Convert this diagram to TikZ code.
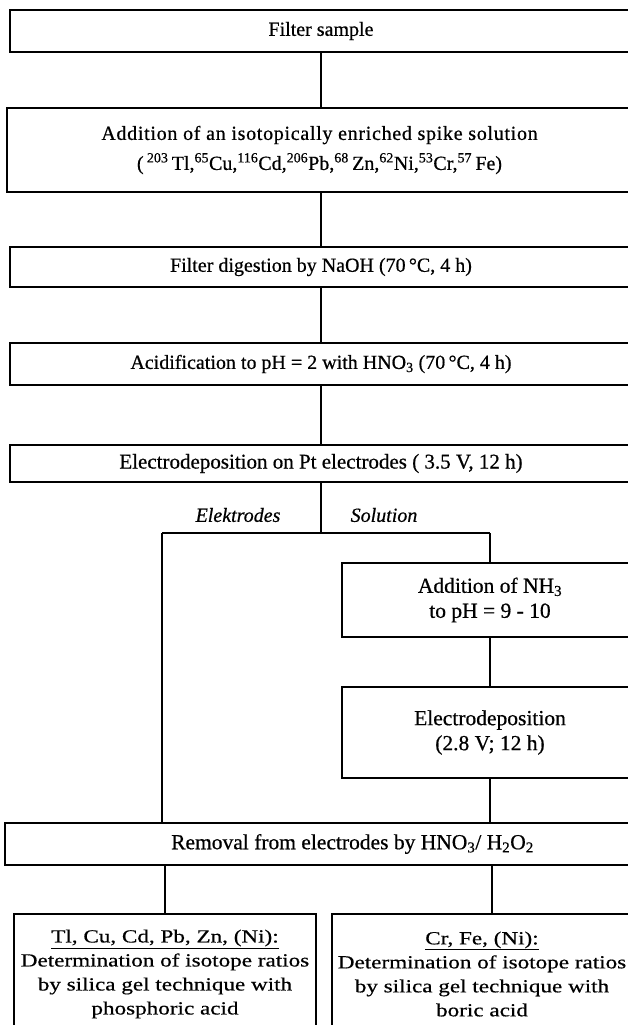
\documentclass[tikz,border=0pt]{standalone}
\usepackage{fontspec}
\setmainfont{Liberation Serif}[FakeBold=0.6]
\newfontfamily\widefont{Liberation Serif}[FakeStretch=1.25,FakeBold=0.5]
\begin{document}
\begin{tikzpicture}[x=1pt,y=-1pt,
  box/.style={draw, line width=2pt, inner sep=0pt, align=center, font=\fontsize{20}{30}\selectfont},
  midbox/.style={box, font=\fontsize{21.5}{25}\selectfont},
  lowbox/.style={box, font=\widefont\fontsize{18.5}{24}\selectfont},
  lbl/.style={inner sep=0pt, font=\itshape\fontsize{20}{24}\selectfont},
  conn/.style={line width=2.4pt}]
\useasboundingbox (0,0) rectangle (628,1025);
\clip (0,0) rectangle (628,1025);
\node[box, minimum width=622pt, minimum height=42pt] (b1) at (321,31) {Filter sample};
\node[box, minimum width=625pt, minimum height=84pt] (b2) at (319.5,150)
  {{\addfontfeature{LetterSpace=3.5}Addition of an isotopically enriched spike solution}\\
   (\,\textsuperscript{203}\,Tl,\textsuperscript{65}Cu,\textsuperscript{116}Cd,\textsuperscript{206}Pb,\textsuperscript{68}\,Zn,\textsuperscript{62}Ni,\textsuperscript{53}Cr,\textsuperscript{57}\,Fe)};
\node[box, minimum width=622pt, minimum height=40pt] (b3) at (321,267) {Filter digestion by NaOH (70\,°C, 4 h)};
\node[box, minimum width=622pt, minimum height=42pt] (b4) at (321,364) {Acidification to pH = 2 with HNO\textsubscript{3} (70\,°C, 4 h)};
\node[box, minimum width=622pt, minimum height=37pt, font=\fontsize{21}{25}\selectfont] (b5) at (321,463.5) {Electrodeposition on Pt electrodes ( 3.5 V, 12 h)};
\node[lbl] (le) at (238,515) {Elektrodes};
\node[lbl] (ls) at (384,515) {Solution};
\coordinate (sp) at (321,533);
\coordinate (sl) at (162,533);
\coordinate (sr) at (490,533);
\node[midbox, minimum width=296pt, minimum height=74pt] (nh) at (490,600) {Addition of NH\textsubscript{3}\\ to pH = 9 - 10};
\node[midbox, minimum width=296pt, minimum height=91pt] (el) at (490,732.5) {Electrodeposition\\ (2.8 V; 12 h)};
\node[midbox, minimum width=695pt, minimum height=42pt] (rm) at (352.5,844) {Removal from electrodes by HNO\textsubscript{3}/ H\textsubscript{2}O\textsubscript{2}};
\node[lowbox, minimum width=302pt, minimum height=120pt] (bl) at (165,974)
  {\underline{Tl, Cu, Cd, Pb, Zn, (Ni):}\\ Determination of isotope ratios\\ by silica gel technique with\\ phosphoric acid};
\node[lowbox, minimum width=300pt, minimum height=120pt] (br) at (482,974)
  {\underline{Cr, Fe, (Ni):}\\ Determination of isotope ratios\\ by silica gel technique with\\ boric acid};
\draw[conn] (b1.south) -- (b1.south |- b2.north);
\draw[conn] (b1.south |- b2.south) -- (b1.south |- b3.north);
\draw[conn] (b3.south) -- (b4.north);
\draw[conn] (b4.south) -- (b5.north);
\draw[conn] (b5.south) -- (sp);
\draw[conn] (sl) -- (sr);
\draw[conn] (sr) -- (sr |- nh.north);
\draw[conn] (nh.south) -- (el.north);
\draw[conn] (el.south) -- (el.south |- rm.north);
\draw[conn] (sl) -- (sl |- rm.north);
\draw[conn] (bl.north |- rm.south) -- (bl.north);
\draw[conn] ([xshift=10pt]br.north |- rm.south) -- ([xshift=10pt]br.north);
\end{tikzpicture}
\end{document}
